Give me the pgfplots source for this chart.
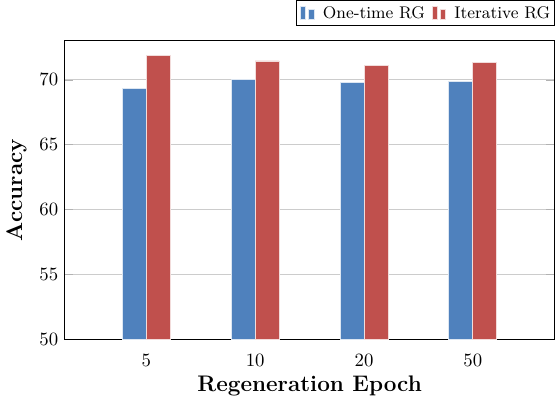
\documentclass[border=0pt]{standalone}
\usepackage{pgfplots}
\pgfplotsset{compat=1.18}
\definecolor{cblue}{RGB}{79,129,189}
\definecolor{cred}{RGB}{192,80,77}
\begin{document}
\begin{tikzpicture}
\begin{axis}[
  scale only axis,
  width=261pt, height=159pt,
  ybar=0pt, bar width=12.8pt,
  xmin=-0.75, xmax=3.75,
  ymin=50, ymax=73,
  xtick=data, xticklabels={5,10,20,50},
  x tick style={draw=none},
  ytick={50,55,60,65,70},
  ymajorgrids, grid style={gray!40, line width=0.6pt},
  y tick style={gray!60},
  xlabel={\large\bfseries Regeneration Epoch},
  ylabel={\large\bfseries Accuracy},
  xlabel style={yshift=2pt},
  legend columns=2,
  legend style={at={(1,1.05)}, anchor=south east, font=\small, draw=black,
    inner xsep=2pt, inner ysep=3pt,
    nodes={inner sep=0pt, text depth=0pt},
    /tikz/every odd column/.style={column sep=4.5pt},
    /tikz/every even column/.style={column sep=3.5pt}},
  legend image code/.code={%
    \fill[#1] (0pt,-3.5pt) rectangle (2.7pt,3.5pt);
    \fill[#1] (4.4pt,-3.5pt) rectangle (7.3pt,2pt);},
]
\addplot[fill=cblue, draw=white!80!cblue, line width=0.4pt] coordinates {(0,69.3) (1,70.0) (2,69.8) (3,69.85)};
\addplot[fill=cred, draw=white!80!cred, line width=0.4pt] coordinates {(0,71.9) (1,71.45) (2,71.1) (3,71.3)};
\legend{One-time RG, Iterative RG}
\end{axis}
\end{tikzpicture}
\end{document}
